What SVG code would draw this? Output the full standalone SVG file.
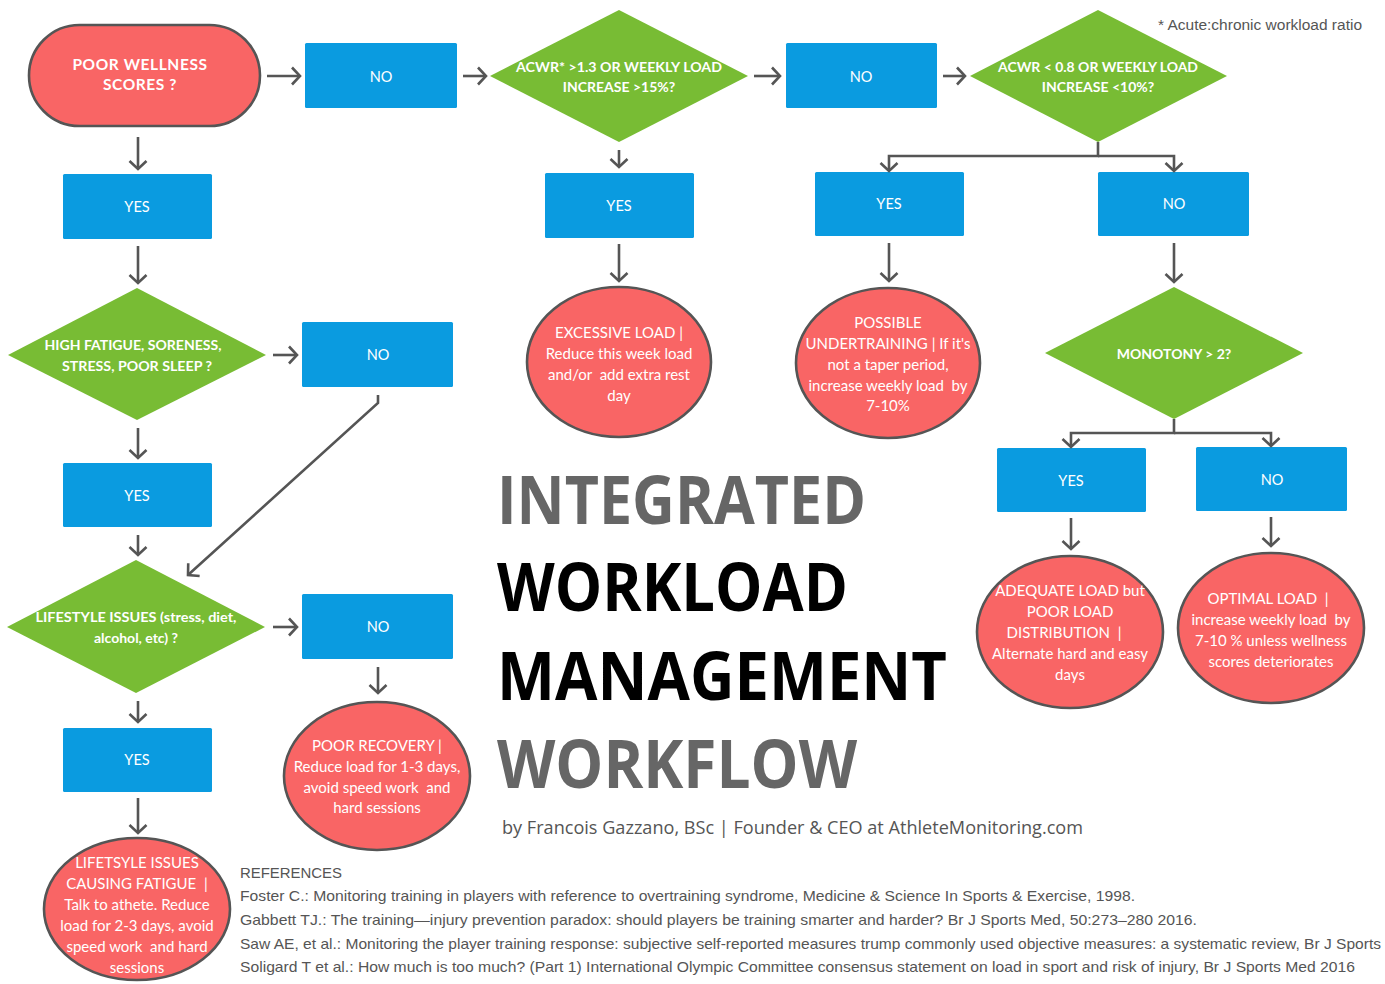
<svg xmlns="http://www.w3.org/2000/svg" width="1385" height="984" viewBox="0 0 1385 984">
<defs>
<marker id="arr" viewBox="0 0 20 20" refX="10" refY="10" markerWidth="20" markerHeight="20" markerUnits="userSpaceOnUse" orient="auto">
<path d="M2,1.5 L10,10 L2,18.5" fill="none" stroke="#555" stroke-width="2.6" stroke-linejoin="miter"/>
</marker>
<style>
.bx{fill:#0a9be0;}
.dm{fill:#78bc34;}
.rc{fill:#f96565;stroke:#555;stroke-width:2.6;}
.bt{font-family:Lato,"Open Sans",sans-serif;font-size:14.5px;fill:#fff;text-anchor:middle;}
.dt{font-family:Lato,"Open Sans",sans-serif;font-size:14px;font-weight:bold;fill:#fff;text-anchor:middle;}
.ct{font-family:Lato,"Open Sans",sans-serif;font-size:15px;fill:#fff;text-anchor:middle;white-space:pre;}
.con{fill:none;stroke:#555;stroke-width:2.6;}
.ref{font-family:"Liberation Sans",Arial,sans-serif;font-size:14.5px;fill:#555;}
.tt{font-family:"Open Sans",Lato,sans-serif;font-weight:bold;font-size:66px;}
</style>
</defs>
<rect width="1385" height="984" fill="#fff"/>

<g id="start">
<rect x="29" y="25" width="231" height="101" rx="50.5" class="rc"/>
<text x="140" y="70" class="dt" style="font-size:15.5px;letter-spacing:0.6px">POOR WELLNESS</text>
<text x="140" y="90" class="dt" style="font-size:15.5px;letter-spacing:0.6px">SCORES ?</text>
</g>

<g id="no1"><rect x="305" y="43" width="152" height="65" rx="1.5" class="bx"/><text x="381" y="82" class="bt">NO</text></g>
<g id="yes1"><rect x="63" y="174" width="149" height="65" rx="1.5" class="bx"/><text x="137" y="212" class="bt">YES</text></g>

<g id="acwr-high">
<polygon points="490,76 619,10 748,76 619,142" class="dm"/>
<text x="619" y="72" class="dt" textLength="206" lengthAdjust="spacingAndGlyphs">ACWR* &gt;1.3 OR WEEKLY LOAD</text>
<text x="619" y="92" class="dt">INCREASE &gt;15%?</text>
</g>

<g id="no2"><rect x="786" y="43" width="151" height="65" rx="1.5" class="bx"/><text x="861" y="82" class="bt">NO</text></g>

<g id="acwr-low">
<polygon points="970,76 1098,10 1227,76 1098,142" class="dm"/>
<text x="1098" y="72" class="dt" textLength="200" lengthAdjust="spacingAndGlyphs">ACWR &lt; 0.8 OR WEEKLY LOAD</text>
<text x="1098" y="92" class="dt">INCREASE &lt;10%?</text>
</g>

<g id="footnote"><text x="1158" y="30" class="ref" style="font-size:14px" textLength="204" lengthAdjust="spacingAndGlyphs">* Acute:chronic workload ratio</text></g>

<g id="yes2"><rect x="545" y="173" width="149" height="65" rx="1.5" class="bx"/><text x="619" y="211" class="bt">YES</text></g>
<g id="yes3"><rect x="815" y="172" width="149" height="64" rx="1.5" class="bx"/><text x="889" y="209" class="bt">YES</text></g>
<g id="no3"><rect x="1098" y="172" width="151" height="64" rx="1.5" class="bx"/><text x="1174" y="209" class="bt">NO</text></g>

<g id="excessive">
<ellipse cx="619" cy="362" rx="92" ry="75" class="rc"/>
<text class="ct"><tspan x="619" y="338">EXCESSIVE LOAD |</tspan><tspan x="619" y="359">Reduce this week load</tspan><tspan x="619" y="380">and/or  add extra rest</tspan><tspan x="619" y="401">day</tspan></text>
</g>

<g id="undertraining">
<ellipse cx="888" cy="363" rx="92" ry="75" class="rc"/>
<text class="ct"><tspan x="888" y="328">POSSIBLE</tspan><tspan x="888" y="349">UNDERTRAINING | If it's</tspan><tspan x="888" y="370">not a taper period,</tspan><tspan x="888" y="391">increase weekly load  by</tspan><tspan x="888" y="411">7-10%</tspan></text>
</g>

<g id="monotony">
<polygon points="1045,353 1174,287 1303,353 1174,419" class="dm"/>
<text x="1174" y="359" class="dt">MONOTONY &gt; 2?</text>
</g>

<g id="fatigue">
<polygon points="8,355 137,288 266,355 137,420" class="dm"/>
<text x="133" y="350" class="dt" textLength="177" lengthAdjust="spacingAndGlyphs">HIGH FATIGUE, SORENESS,</text>
<text x="137" y="371" class="dt" textLength="150" lengthAdjust="spacingAndGlyphs">STRESS, POOR SLEEP ?</text>
</g>

<g id="no4"><rect x="302" y="322" width="151" height="65" rx="1.5" class="bx"/><text x="378" y="360" class="bt">NO</text></g>
<g id="yes4"><rect x="63" y="463" width="149" height="64" rx="1.5" class="bx"/><text x="137" y="501" class="bt">YES</text></g>

<g id="lifestyle">
<polygon points="7,627 136,560 265,627 136,693" class="dm"/>
<text x="136" y="622" class="dt" textLength="201" lengthAdjust="spacingAndGlyphs">LIFESTYLE ISSUES (stress, diet,</text>
<text x="136" y="643" class="dt">alcohol, etc) ?</text>
</g>

<g id="no5"><rect x="302" y="594" width="151" height="65" rx="1.5" class="bx"/><text x="378" y="632" class="bt">NO</text></g>
<g id="yes5"><rect x="63" y="728" width="149" height="64" rx="1.5" class="bx"/><text x="137" y="765" class="bt">YES</text></g>

<g id="poor-recovery">
<ellipse cx="377" cy="776" rx="93" ry="74" class="rc"/>
<text class="ct"><tspan x="377" y="751">POOR RECOVERY |</tspan><tspan x="377" y="772">Reduce load for 1-3 days,</tspan><tspan x="377" y="793">avoid speed work  and</tspan><tspan x="377" y="813">hard sessions</tspan></text>
</g>

<g id="lifestyle-fatigue">
<ellipse cx="137" cy="909" rx="93" ry="71" class="rc"/>
<text class="ct"><tspan x="137" y="868">LIFETSYLE ISSUES</tspan><tspan x="137" y="889">CAUSING FATIGUE  |</tspan><tspan x="137" y="910">Talk to athete. Reduce</tspan><tspan x="137" y="931">load for 2-3 days, avoid</tspan><tspan x="137" y="952">speed work  and hard</tspan><tspan x="137" y="973">sessions</tspan></text>
</g>

<g id="yes6"><rect x="997" y="448" width="149" height="64" rx="1.5" class="bx"/><text x="1071" y="486" class="bt">YES</text></g>
<g id="no6"><rect x="1196" y="447" width="151" height="64" rx="1.5" class="bx"/><text x="1272" y="485" class="bt">NO</text></g>

<g id="adequate">
<ellipse cx="1070" cy="632" rx="93" ry="76" class="rc"/>
<text class="ct"><tspan x="1070" y="596">ADEQUATE LOAD but</tspan><tspan x="1070" y="617">POOR LOAD</tspan><tspan x="1064" y="638">DISTRIBUTION  |</tspan><tspan x="1070" y="659">Alternate hard and easy</tspan><tspan x="1070" y="680">days</tspan></text>
</g>

<g id="optimal">
<ellipse cx="1271" cy="628" rx="93" ry="75" class="rc"/>
<text class="ct"><tspan x="1268" y="604">OPTIMAL LOAD  |</tspan><tspan x="1271" y="625">increase weekly load  by</tspan><tspan x="1271" y="646">7-10 % unless wellness</tspan><tspan x="1271" y="667">scores deteriorates</tspan></text>
</g>

<g id="connectors" class="con" marker-end="url(#arr)">
<path d="M267,76 H300"/>
<path d="M463,76 H486"/>
<path d="M754,76 H780"/>
<path d="M943,76 H965"/>
<path d="M138,137 V169"/>
<path d="M138,246 V283"/>
<path d="M619,150 V167"/>
<path d="M619,244 V281"/>
<path d="M1098,142 V156 H889 V171"/>
<path d="M1098,156 H1174 V171"/>
<path d="M889,243 V281"/>
<path d="M1174,243 V282"/>
<path d="M273,355 H297"/>
<path d="M138,428 V458"/>
<path d="M378,395 V403 L188,575"/>
<path d="M138,535 V555"/>
<path d="M273,627 H297"/>
<path d="M378,667 V693"/>
<path d="M138,701 V722"/>
<path d="M138,798 V833"/>
<path d="M1174,419 V433 H1071 V447"/>
<path d="M1174,433 H1271 V446"/>
<path d="M1071,518 V549"/>
<path d="M1271,517 V546"/>
</g>

<g id="title">
<text x="497" y="524" class="tt" fill="#666" textLength="369" lengthAdjust="spacingAndGlyphs">INTEGRATED</text>
<text x="497" y="611" class="tt" fill="#000" textLength="351" lengthAdjust="spacingAndGlyphs">WORKLOAD</text>
<text x="497" y="700" class="tt" fill="#000" textLength="450" lengthAdjust="spacingAndGlyphs">MANAGEMENT</text>
<text x="497" y="788" class="tt" fill="#666" textLength="360" lengthAdjust="spacingAndGlyphs">WORKFLOW</text>
<text x="502" y="834" style="font-family:'Open Sans',Lato,sans-serif;font-size:18px;fill:#555" textLength="581" lengthAdjust="spacingAndGlyphs">by Francois Gazzano, BSc | Founder &amp; CEO at AthleteMonitoring.com</text>
</g>

<g id="references">
<text x="240" y="878" class="ref" textLength="102" lengthAdjust="spacingAndGlyphs">REFERENCES</text>
<text x="240" y="901" class="ref" textLength="895" lengthAdjust="spacingAndGlyphs">Foster C.: Monitoring training in players with reference to overtraining syndrome, Medicine &amp; Science In Sports &amp; Exercise, 1998.</text>
<text x="240" y="925" class="ref" textLength="957" lengthAdjust="spacingAndGlyphs">Gabbett TJ.: The training—injury prevention paradox: should players be training smarter and harder?  Br J Sports Med, 50:273–280 2016.</text>
<text x="240" y="949" class="ref" textLength="1141" lengthAdjust="spacingAndGlyphs">Saw AE, et al.: Monitoring the player training response: subjective self-reported measures trump commonly used objective measures: a systematic review, Br J Sports</text>
<text x="240" y="972" class="ref" textLength="1115" lengthAdjust="spacingAndGlyphs">Soligard T et al.: How much is too much? (Part 1) International Olympic Committee consensus statement on load in sport and risk of injury, Br J Sports Med 2016</text>
</g>
</svg>
